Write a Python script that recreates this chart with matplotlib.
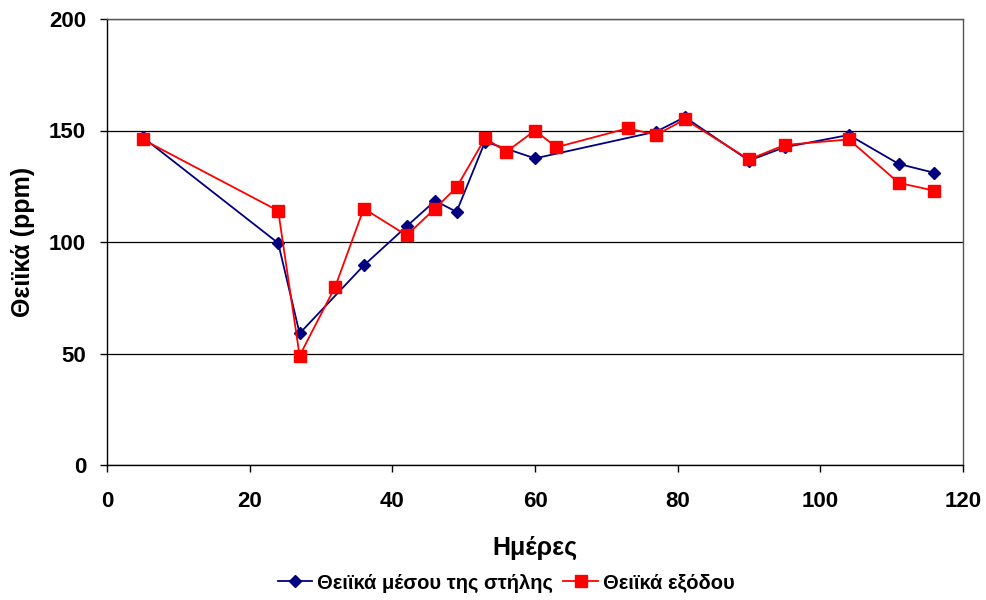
import matplotlib.pyplot as plt

plt.rcParams["font.family"] = ["Liberation Sans", "DejaVu Sans"]
plt.rcParams["font.weight"] = "bold"

# Θειϊκά μέσου της στήλης
days_mid = [5, 24, 27, 36, 42, 46, 49, 53, 60, 77, 81, 90, 95, 104, 111, 116]
sulf_mid = [147, 99.5, 59, 89.5, 107, 118.5, 113.5, 145, 137.5, 149.5, 156, 136.5, 142.5, 148, 135, 131]

# Θειϊκά εξόδου
days_out = [5, 24, 27, 32, 36, 42, 46, 49, 53, 56, 60, 63, 73, 77, 81, 90, 95, 104, 111, 116]
sulf_out = [146, 114, 49, 80, 115, 103, 115, 124.5, 146.5, 140.5, 150, 142.5, 151, 148, 155, 137, 143.5, 146, 126.5, 123]

fig = plt.figure(figsize=(9.87, 6.0), dpi=100)
ax = fig.add_axes([107 / 987, 1 - 465 / 600, (963 - 107) / 987, (465 - 19) / 600])

ax.plot(days_mid, sulf_mid, color="#000080", marker="D", markersize=6.5, lw=1.3,
        label="Θειϊκά μέσου της στήλης", zorder=3)
ax.plot(days_out, sulf_out, color="#FF0000", marker="s", markersize=8.5, lw=1.3,
        label="Θειϊκά εξόδου", zorder=4)

ax.set_xlim(0, 120)
ax.set_ylim(0, 200)
ax.set_xticks(range(0, 121, 20))
ax.set_yticks(range(0, 201, 50))
ax.yaxis.grid(True, color="black", lw=0.9)
ax.set_axisbelow(True)
for s in ax.spines.values():
    s.set_color("black")
    s.set_linewidth(1.0)
ax.spines["top"].set_color("#555555")
ax.spines["right"].set_color("#555555")
ax.tick_params(axis="both", direction="out", length=5, labelsize=16, width=1)
ax.tick_params(axis="x", pad=14)
ax.tick_params(axis="y", pad=10)

ax.set_xlabel("Ημέρες", fontsize=18, fontweight="bold", labelpad=17)
ax.set_ylabel("Θειϊκά (ppm)", fontsize=18, fontweight="bold", labelpad=10)

fig.legend(loc="center", bbox_to_anchor=(0.513, 1 - 583 / 600), ncol=2, frameon=False,
           prop={"weight": "bold", "size": 14.5}, handlelength=1.7,
           columnspacing=0.5, handletextpad=0.25, borderaxespad=0)

fig.savefig("out.png", dpi=100)
